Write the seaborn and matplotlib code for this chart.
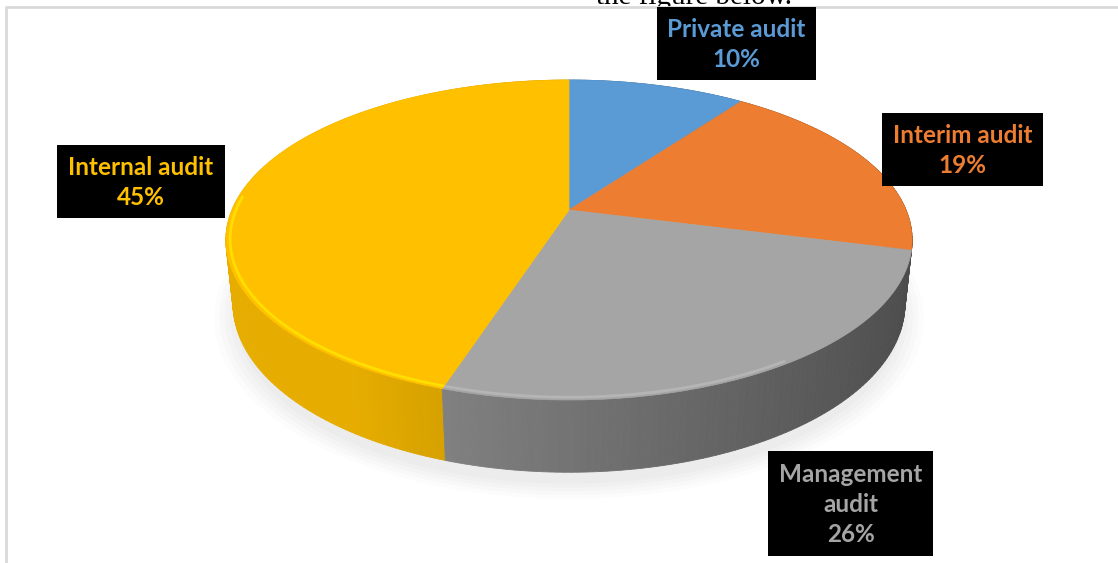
import numpy as np
import matplotlib
matplotlib.use("Agg")
import matplotlib.pyplot as plt
from matplotlib.patches import Polygon, Rectangle
from matplotlib.colors import to_rgb
import seaborn as sns

# Audit types and their share of the total (percent), clockwise from 12 o'clock
categories = ["Private audit", "Interim audit", "Management audit", "Internal audit"]
display_names = ["Private audit", "Interim audit", "Management\naudit", "Internal audit"]
shares = [10, 19, 26, 45]
slice_colors = ["#5B9BD5", "#ED7D31", "#A5A5A5", "#FFC000"]
label_colors = ["#5B9BD5", "#ED7D31", "#A5A5A5", "#FFC000"]
# label box anchors (pixel space: left, top, width, height)
label_boxes = [(657, 7, 159, 73), (882, 113, 161, 73), (768, 451, 165, 105), (57, 145, 168, 73)]

sns.set_theme(style="white")
plt.rcParams["font.family"] = ["Lato", "DejaVu Sans"]

W, H = 1118, 563
fig = plt.figure(figsize=(W / 100, H / 100), dpi=100)
ax = fig.add_axes([0, 0, 1, 1])
ax.set_xlim(0, W)
ax.set_ylim(H, 0)
ax.axis("off")

# running text of the page, partly hidden behind the chart area
ax.text(694, 4, "the figure below.", ha="center", va="baseline", fontsize=21,
        family="Liberation Serif", color="black", zorder=0.1)
ax.add_patch(Rectangle((5, 7), W, H, facecolor="white", edgecolor="none", zorder=0.2))

# perspective camera for the 3-D pie
phi = np.arcsin(0.458)
s_, c_ = np.sin(phi), np.cos(phi)
D = 5.333 * c_
k = 130 * (D + c_) / s_
cx, cy = 569, 210
thick = 0.214


def proj(u, w, h):
    yc = w * s_ + h * c_
    zc = D + w * c_ - h * s_
    return cx + k * u / zc, cy - k * yc / zc


def mix(col, f):
    r = np.array(to_rgb(col))
    if f <= 1:
        return tuple(r * f)
    return tuple(r + (1 - r) * (f - 1))


fractions = np.array(shares, dtype=float) / np.sum(shares)
edges = np.concatenate([[0], np.cumsum(fractions)]) * 2 * np.pi

# faint soft shadow under the disc
t = np.linspace(0, 2 * np.pi, 240)
for r, a in zip(np.linspace(1.05, 0.99, 5), [0.025, 0.03, 0.035, 0.04, 0.045]):
    px, py = proj(r * np.sin(t), r * np.cos(t) - 0.03, -thick - 0.02)
    ax.add_patch(Polygon(np.column_stack([px, py]), closed=True, color="#9a9a9a", alpha=a, lw=0))

# cylinder side, drawn back to front
quads = []
for i, col in enumerate(slice_colors):
    tt = np.linspace(edges[i], edges[i + 1], max(4, int(fractions[i] * 360)))
    for a0, a1 in zip(tt[:-1], tt[1:]):
        u0, w0 = np.sin(a0), np.cos(a0)
        u1, w1 = np.sin(a1), np.cos(a1)
        um = np.sin((a0 + a1) / 2)
        wm = np.cos((a0 + a1) / 2)
        shade = 0.70 - 0.25 * um
        if col == "#FFC000":
            shade = min(0.90, shade * 1.08)
        x0, y0 = proj(u0, w0, 0)
        x1, y1 = proj(u1, w1, 0)
        x2, y2 = proj(u1, w1, -thick)
        x3, y3 = proj(u0, w0, -thick)
        quads.append((wm, [(x0, y0), (x1, y1), (x2, y2), (x3, y3)], mix(col, shade)))
for wm, pts, fc in sorted(quads, key=lambda q: -q[0]):
    ax.add_patch(Polygon(pts, closed=True, facecolor=fc, edgecolor=fc, lw=0.6))

# top face slices
for i, col in enumerate(slice_colors):
    tt = np.linspace(edges[i], edges[i + 1], max(6, int(fractions[i] * 400)))
    px, py = proj(np.sin(tt), np.cos(tt), 0)
    pts = [(cx, cy)] + list(zip(px, py))
    ax.add_patch(Polygon(pts, closed=True, facecolor=col, edgecolor=col, lw=0.5))

# bevel highlight along the front rim, fading towards the right
for i, col in enumerate(slice_colors):
    tt = np.linspace(edges[i], edges[i + 1], 200)
    tt = tt[(np.cos(tt) < 0.1) & (np.sin(tt) < 0.55)]
    if len(tt) < 2:
        continue
    px, py = proj(0.988 * np.sin(tt), 0.988 * np.cos(tt), 0)
    hl = "#FFE600" if col == "#FFC000" else mix(col, 1.35)
    al = 0.8 if col == "#FFC000" else 0.5
    ax.plot(px, py, color=hl, lw=2.0, alpha=al, solid_capstyle="butt")

# labels in black boxes
for i, (name, pct) in enumerate(zip(display_names, shares)):
    bx, by, bw, bh = label_boxes[i]
    ax.add_patch(Rectangle((bx, by), bw, bh, facecolor="black", edgecolor="none", zorder=5))
    ax.text(bx + bw / 2, by + bh / 2 + 1, f"{name}\n{pct}%", ha="center", va="center",
            color=label_colors[i], fontsize=17.5, fontweight="bold", linespacing=1.36, zorder=6)

# chart area frame
ax.plot([5, W], [7, 7], color="#d9d9d9", lw=2, solid_capstyle="butt")
ax.plot([6, 6], [7, H], color="#d9d9d9", lw=2, solid_capstyle="butt")

fig.savefig("out.png", dpi=100)
